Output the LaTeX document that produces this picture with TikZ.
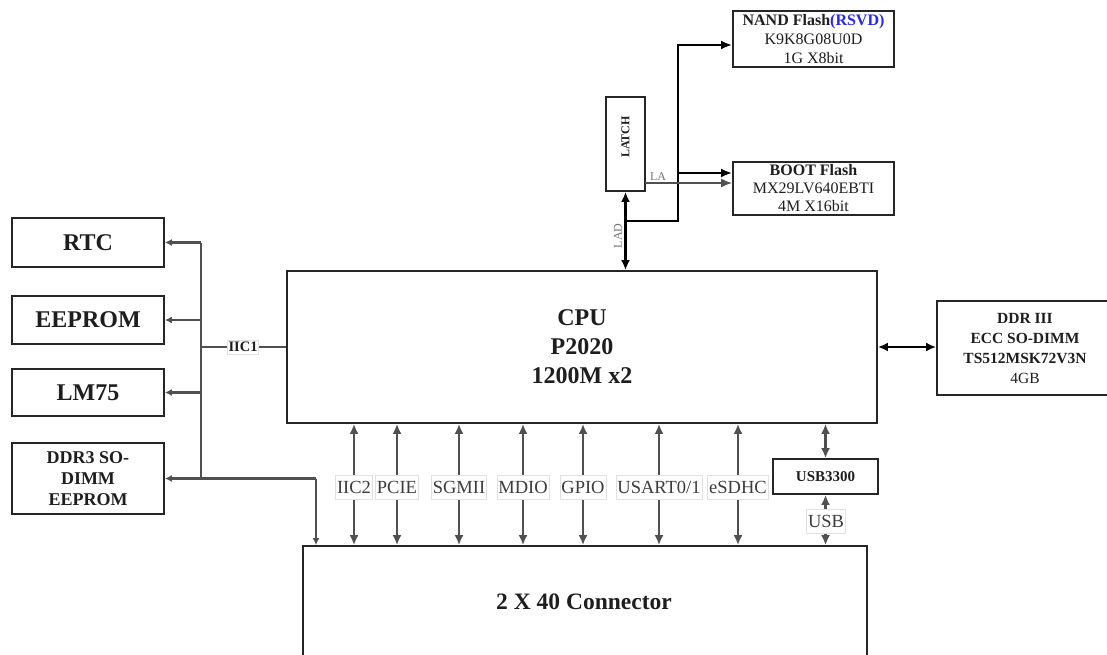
\documentclass[tikz,border=0pt]{standalone}
\usepackage{fontspec}
\setmainfont{Liberation Serif}
\usetikzlibrary{arrows.meta}
\definecolor{lnk}{RGB}{80,80,80}
\definecolor{txt}{RGB}{30,30,30}
\definecolor{lbl}{RGB}{60,60,60}
\definecolor{rsvd}{RGB}{40,40,230}
\tikzset{
  box/.style={draw=black!85, line width=1.8pt, fill=white, inner sep=0pt, align=center, text=txt},
  ln/.style={draw=lnk, line width=2.2pt},
  thk/.style={draw=black, line width=2.8pt},
  tip/.style={-{Latex[length=11pt,width=9pt]}},
  bi/.style={{Latex[length=10pt,width=9pt]}-{Latex[length=10pt,width=9pt]}},
  smalltip/.style={-{Latex[length=7pt,width=7pt]}},
  buslbl/.style={fill=white, draw=black!12, line width=0.5pt, inner xsep=1.5pt, inner ysep=6pt, text=lbl, font=\fontsize{18.5}{20}\selectfont},
  tinylbl/.style={text=black!55, inner sep=0pt, font=\fontsize{12}{13}\selectfont}
}
\begin{document}
\begin{tikzpicture}[x=1pt,y=-1pt]
\useasboundingbox (0,0) rectangle (1107,655);
% top right
\node[box, minimum width=161, minimum height=56, font=\fontsize{16}{19}\selectfont] (nand) at (813.5,39)
  {\textbf{NAND Flash\textcolor{rsvd}{(RSVD)}}\\K9K8G08U0D\\1G X8bit};
\node[box, minimum width=39, minimum height=94] (latch) at (625.5,144) {};
\node[rotate=90, font=\bfseries\fontsize{12}{13}\selectfont, text=txt] (latchtxt) at (625.5,137) {LATCH};
\node[box, minimum width=161, minimum height=53, font=\fontsize{16}{18}\selectfont] (boot) at (813.5,188.5)
  {\textbf{BOOT Flash}\\MX29LV640EBTI\\4M X16bit};
% CPU
\node[box, minimum width=590, minimum height=152, font=\bfseries\fontsize{24}{29}\selectfont] (cpu) at (582,347)
  {CPU\\P2020\\1200M x2};
\node[box, minimum width=176, minimum height=94, font=\fontsize{15.5}{20}\selectfont] (ddr) at (1025,348)
  {\textbf{DDR III}\\\textbf{ECC SO-DIMM}\\\textbf{TS512MSK72V3N}\\4GB};
% left
\node[box, minimum width=152, minimum height=49, font=\bfseries\fontsize{24}{26}\selectfont] (rtc) at (88,242.5) {RTC};
\node[box, minimum width=152, minimum height=48, font=\bfseries\fontsize{24}{26}\selectfont] (eeprom) at (88,320) {EEPROM};
\node[box, minimum width=152, minimum height=47, font=\bfseries\fontsize{24}{26}\selectfont] (lm75) at (88,392.5) {LM75};
\node[box, minimum width=152, minimum height=71, font=\bfseries\fontsize{18}{21}\selectfont] (ddr3) at (88,478.5) {DDR3 SO-\\DIMM\\EEPROM};
% USB3300 and connector
\node[box, minimum width=105, minimum height=35, font=\bfseries\fontsize{15}{16}\selectfont] (usbphy) at (825.5,476.5) {USB3300};
\node[box, minimum width=564, minimum height=130] (conn) at (585,611) {};
\node[font=\bfseries\fontsize{23.5}{26}\selectfont, text=txt] (conntxt) at (584,602) {2 X 40 Connector};
% LAD / LA / flash links
\coordinate (j1) at (626,221);
\coordinate (j2) at (678,221);
\coordinate (j3) at (678,45);
\coordinate (j4) at (678,173);
\coordinate (la) at (645,183);
\draw[thk, bi] (latch.south) -- (latch.south |- cpu.north);
\draw[thk, tip] (j1) -- (j2) -- (j3) -- (j3 -| nand.west);
\draw[thk, tip] (j4) -- (j4 -| boot.west);
\draw[ln, line width=1.8pt, tip] (la) -- (la -| boot.west);
\node[tinylbl] (latxt) at (658,177) {LA};
\node[tinylbl, rotate=90] (ladtxt) at (618,236) {LAD};
% DDR
\draw[thk, bi] (cpu.east) -- (cpu.east -| ddr.west);
% IIC1 bus
\coordinate (bt) at (201,242.5);
\coordinate (bb) at (201,478.5);
\coordinate (bc) at (316,478.5);
\draw[ln] (cpu.west) -- (201,347);
\draw[ln] (bt) -- (bb) -- (bc);
\draw[ln, smalltip] (bt) -- (rtc.east);
\draw[ln, smalltip] (201,320) -- (eeprom.east);
\draw[ln, smalltip] (201,392.5) -- (lm75.east);
\draw[ln, smalltip] (bb) -- (ddr3.east);
\draw[ln, smalltip] (bc) -- (bc |- conn.north);
\node[fill=white, draw=black!12, line width=0.5pt, inner xsep=1pt, inner ysep=2pt, text=txt, font=\bfseries\fontsize{14.5}{16}\selectfont] (iic1) at (243,347) {IIC1};
% bottom buses
\foreach \xx/\nm/\name in {354/IIC2/b1, 397/PCIE/b2, 459/SGMII/b3, 523/MDIO/b4, 583/GPIO/b5, 659/USART0\slash 1/b6, 738/eSDHC/b7}{
  \draw[ln, bi] (\xx,0 |- cpu.south) -- (\xx,0 |- conn.north);
  \node[buslbl] (\name) at (\xx,487) {\nm};
}
% USB
\draw[ln, bi] (usbphy.north |- cpu.south) -- (usbphy.north);
\draw[ln, bi] (usbphy.south) -- (usbphy.south |- conn.north);
\node[buslbl] (usblbl) at (826,521) {USB};
\end{tikzpicture}
\end{document}
